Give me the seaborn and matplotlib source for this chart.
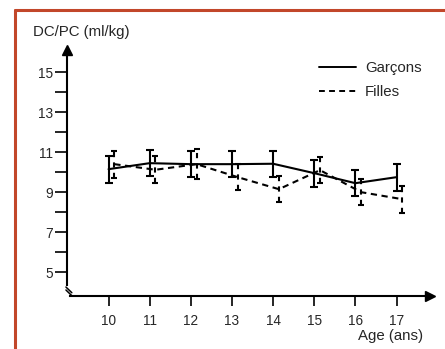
import matplotlib
matplotlib.use("Agg")
import matplotlib.pyplot as plt
from matplotlib.lines import Line2D
import seaborn as sns
import pandas as pd
import numpy as np

# ---- data ----
ages = [10, 11, 12, 13, 14, 15, 16, 17]
garcons_mean = [10.15, 10.45, 10.4, 10.4, 10.42, 9.95, 9.45, 9.75]
garcons_sd = [0.67, 0.64, 0.66, 0.65, 0.66, 0.67, 0.65, 0.67]
filles_mean = [10.4, 10.12, 10.4, 9.75, 9.15, 10.1, 9.0, 8.65]
filles_sd = [0.67, 0.68, 0.74, 0.66, 0.66, 0.66, 0.66, 0.67]
y_ticks = [5, 7, 9, 11, 13, 15]
x_ticks = ages

sns.set_theme(style="white")
plt.rcParams['font.family'] = ['Liberation Sans', 'DejaVu Sans']

df = pd.DataFrame({
    "age": ages * 2,
    "dc_pc": garcons_mean + filles_mean,
    "sexe": ["Garçons"] * len(ages) + ["Filles"] * len(ages),
})
offsets = {"Garçons": 0.0, "Filles": 0.14}
df["x"] = df["age"] + df["sexe"].map(offsets)

fig = plt.figure(figsize=(4.45, 3.49), dpi=100)
ax = fig.add_axes([0.1515, 0.1527, 0.8265, 0.7097])

sns.lineplot(data=df, x="x", y="dc_pc", hue="sexe", style="sexe",
             palette={"Garçons": "black", "Filles": "black"},
             dashes={"Garçons": "", "Filles": (3, 2.2)},
             linewidth=1.5, ax=ax, legend=True, errorbar=None)

eb_g = ax.errorbar(np.array(ages) + offsets["Garçons"], garcons_mean, yerr=garcons_sd,
                   fmt="none", ecolor="black", elinewidth=1.5, capsize=3, capthick=1.5)
eb_f = ax.errorbar(np.array(ages) + offsets["Filles"], filles_mean, yerr=filles_sd,
                   fmt="none", ecolor="black", elinewidth=1.5, capsize=2.5, capthick=1.5)
eb_f[2][0].set_linestyle((0, (2.5, 2.5)))

ax.set_xlim(9.0, 17.94)
ax.set_ylim(3.83, 16.2)
ax.set_xticks(x_ticks)
ax.set_yticks(y_ticks)
ax.set_yticks([6, 8, 10, 12, 14], minor=True)
ax.tick_params(axis="y", which="both", direction="out", length=8.5, width=1.2,
               color="black", labelsize=9.8, pad=2, left=True)
ax.tick_params(axis="x", which="major", direction="out", length=7, width=1.2,
               color="black", labelsize=9.8, pad=6, bottom=True)
ax.set_xlabel("")
ax.set_ylabel("")

for s in ["top", "right"]:
    ax.spines[s].set_visible(False)
for s in ["left", "bottom"]:
    ax.spines[s].set_color("black")
    ax.spines[s].set_linewidth(1.5)
ax.spines["left"].set_bounds(4.35, 16.0)
ax.spines["bottom"].set_bounds(9.07, 17.85)

# arrow heads
ax.plot(0.986, 0, marker=">", color="black", markersize=7, transform=ax.transAxes, clip_on=False)
ax.plot(0, 0.99, marker="^", color="black", markersize=7, transform=ax.transAxes, clip_on=False)
# axis break marks
for dy in (0.0, 0.012):
    ax.plot([-0.004, 0.012], [0.035 - dy, 0.012 - dy], color="black", lw=1.1,
            transform=ax.transAxes, clip_on=False)

# legend
handles, labels = ax.get_legend_handles_labels()
leg = ax.legend(handles, labels, loc="upper left", bbox_to_anchor=(0.699, 0.847),
                bbox_transform=fig.transFigure, frameon=False, fontsize=10.8,
                handlelength=2.5, handletextpad=0.6, labelspacing=0.68, borderpad=0)
for h in leg.get_lines():
    h.set_linewidth(1.4)

fig.text(33 / 445, 1 - 32 / 349, "DC/PC (ml/kg)", fontsize=10.8, va="center", ha="left")
fig.text(423 / 445, 1 - 336 / 349, "Age (ans)", fontsize=10.8, va="center", ha="right")

# red frame (top and left)
red = "#c2472a"
fig.add_artist(Line2D([15 / 445, 1.0], [1 - 10 / 349, 1 - 10 / 349], color=red, lw=2.2))
fig.add_artist(Line2D([15 / 445, 15 / 445], [0, 1 - 10 / 349], color=red, lw=2.2))

fig.savefig("out.png", dpi=100)
